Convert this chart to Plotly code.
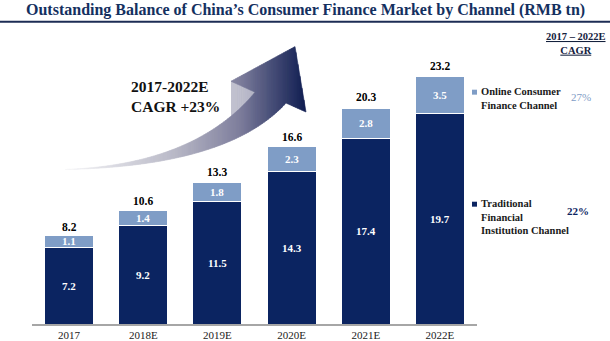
import plotly.graph_objects as go
import numpy as np

# ---- data ----
years = ["2017", "2018E", "2019E", "2020E", "2021E", "2022E"]
traditional = [7.2, 9.2, 11.5, 14.3, 17.4, 19.7]
online = [1.1, 1.4, 1.8, 2.3, 2.8, 3.5]
totals = [8.2, 10.6, 13.3, 16.6, 20.3, 23.2]
cagr_online = "27%"
cagr_trad = "22%"

W, H = 610, 341
NAVY = "#0b2461"
LIGHT = "#7f9dc6"
FONT = "Liberation Serif, Times New Roman, serif"

def px(x):
    return x / W

def py(y):
    return 1 - y / H

fig = go.Figure()
fig.add_trace(go.Bar(x=years, y=traditional, name="Traditional Financial Institution Channel",
                     marker=dict(color=NAVY, line=dict(color="white", width=1)), width=0.66))
fig.add_trace(go.Bar(x=years, y=online, name="Online Consumer Finance Channel",
                     marker=dict(color=LIGHT, line=dict(color="white", width=1)), width=0.66))

ann = []
for i, yr in enumerate(years):
    ann.append(dict(x=i, y=traditional[i] / 2, text=f"<b>{traditional[i]}</b>", showarrow=False,
                    font=dict(color="white", size=11, family=FONT)))
    ann.append(dict(x=i, y=traditional[i] + online[i] / 2, text=f"<b>{online[i]}</b>", showarrow=False,
                    font=dict(color="white", size=11, family=FONT)))
    ann.append(dict(x=i, y=totals[i], text=f"<b>{totals[i]}</b>", showarrow=False, yanchor="bottom",
                    yshift=2, font=dict(color="black", size=11.5, family=FONT)))

# title
ann.append(dict(xref="paper", yref="paper", x=0.5, xanchor="center", y=py(10), yanchor="middle",
                text="<b>Outstanding Balance of China’s Consumer Finance Market by Channel (RMB tn)</b>",
                showarrow=False, font=dict(color="#14305f", size=16, family=FONT)))
# CAGR header
ann.append(dict(xref="paper", yref="paper", x=px(576), xanchor="center", y=py(44), yanchor="middle",
                text="<b><u>2017 – 2022E</u></b><br><b><u>CAGR</u></b>", showarrow=False,
                font=dict(color="#14213d", size=10.5, family=FONT)))
# legend texts
ann.append(dict(xref="paper", yref="paper", x=px(479), xanchor="left", y=py(99), yanchor="middle",
                text="<b>Online Consumer</b><br><b>Finance Channel</b>", align="left", showarrow=False,
                font=dict(color="#1a1a1a", size=10.5, family=FONT)))
ann.append(dict(xref="paper", yref="paper", x=px(479), xanchor="left", y=py(219), yanchor="middle",
                text="<b>Traditional</b><br><b>Financial</b><br><b>Institution Channel</b>", align="left",
                showarrow=False, font=dict(color="#1a1a1a", size=10.5, family=FONT)))
ann.append(dict(xref="paper", yref="paper", x=px(581), xanchor="center", y=py(98), yanchor="middle",
                text=cagr_online, showarrow=False, font=dict(color=LIGHT, size=11, family=FONT)))
ann.append(dict(xref="paper", yref="paper", x=px(578), xanchor="center", y=py(213), yanchor="middle",
                text=f"<b>{cagr_trad}</b>", showarrow=False, font=dict(color=NAVY, size=11, family=FONT)))
# arrow text
ann.append(dict(xref="paper", yref="paper", x=px(129), xanchor="left", y=py(97), yanchor="middle",
                text="<b>2017-2022E</b><br><b>CAGR +23%</b>", align="left", showarrow=False,
                font=dict(color="#111111", size=15.5, family=FONT)))

shapes = []
# title rule
shapes.append(dict(type="line", xref="paper", yref="paper", x0=0, x1=1, y0=py(22), y1=py(22),
                   line=dict(color="#1c2c55", width=2)))
# legend squares
for (yy, col) in [(93, LIGHT), (206, NAVY)]:
    shapes.append(dict(type="rect", xref="paper", yref="paper", x0=px(472), x1=px(477),
                       y0=py(yy + 2.5), y1=py(yy - 2.5), fillcolor=col, line=dict(width=0)))

# ---- decorative gradient arrow ----
def bez(p0, p1, p2, n=40):
    t = np.linspace(0, 1, n)[:, None]
    return (1 - t) ** 2 * np.array(p0) + 2 * t * (1 - t) * np.array(p1) + t ** 2 * np.array(p2)

tail = (65, 171)
lower = bez(tail, (228, 168), (286, 104))
upper = bez(tail, (195, 166), (255, 93))
poly = [tuple(p) for p in lower] + [(306, 113), (295, 47), (231, 82)] + [tuple(p) for p in upper[::-1]]

def clip(poly, xmin, xmax):
    def clip_half(pts, keep, xc):
        out = []
        n = len(pts)
        for i in range(n):
            a = pts[i]; b = pts[(i + 1) % n]
            ia, ib = keep(a), keep(b)
            if ia:
                out.append(a)
            if ia != ib:
                t = (xc - a[0]) / (b[0] - a[0])
                out.append((xc, a[1] + t * (b[1] - a[1])))
        return out
    p = clip_half(poly, lambda q: q[0] >= xmin, xmin)
    if not p:
        return p
    return clip_half(p, lambda q: q[0] <= xmax, xmax)

stops = [(0.0, (246, 246, 248)), (0.45, (186, 186, 200)), (0.72, (128, 128, 158)), (1.0, (16, 30, 82))]

def color_at(s):
    s = min(max(s, 0), 1)
    for (s0, c0), (s1, c1) in zip(stops[:-1], stops[1:]):
        if s <= s1:
            f = (s - s0) / (s1 - s0)
            c = [int(round(c0[k] + f * (c1[k] - c0[k]))) for k in range(3)]
            return f"rgb({c[0]},{c[1]},{c[2]})"
    return "rgb(16,30,82)"

x0a, x1a = 64, 308
step = 2
for xs in np.arange(x0a, x1a, step):
    seg = clip(poly, xs, xs + step)
    if len(seg) < 3:
        continue
    col = color_at((xs + step / 2 - 65) / (306 - 65))
    path = "M " + " L ".join(f"{px(a):.5f},{py(b):.5f}" for a, b in seg) + " Z"
    shapes.append(dict(type="path", xref="paper", yref="paper", path=path, fillcolor=col,
                       line=dict(color=col, width=0.6), layer="below"))

ybase, ytop_px = 327, 22
scale = 10.78
fig.update_layout(
    width=W, height=H, margin=dict(l=0, r=0, t=0, b=0),
    paper_bgcolor="white", plot_bgcolor="rgba(0,0,0,0)",
    barmode="stack", bargap=0.34, showlegend=False,
    xaxis=dict(type="category", domain=[px(32), px(477)], range=[-0.5, 5.5], showgrid=False,
               zeroline=False, showline=True, linecolor="#a6a6a6", linewidth=1.5, ticks="",
               tickfont=dict(family=FONT, size=11, color="#222222")),
    yaxis=dict(domain=[py(ybase), py(ytop_px)], range=[0, (ybase - ytop_px) / scale], visible=False),
    annotations=ann, shapes=shapes,
)
fig.write_html("out.html")
